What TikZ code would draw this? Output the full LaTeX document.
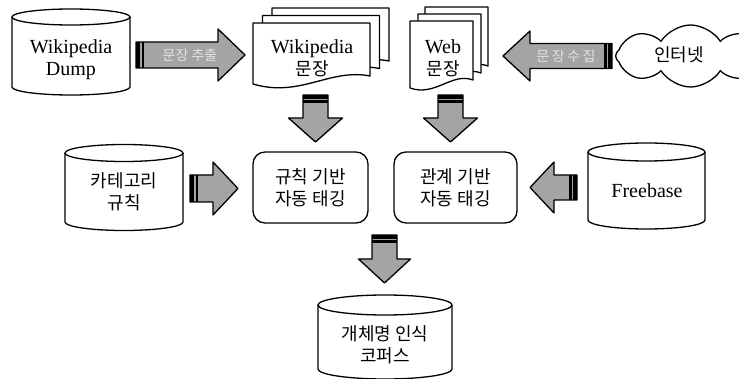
\documentclass[tikz,border=0pt]{standalone}
\usepackage{fontspec}
\setmainfont{Liberation Serif}
\newfontfamily\kr{Noto Sans CJK KR}
\newfontfamily\krwide[LetterSpace=18]{Noto Sans CJK KR}
\usetikzlibrary{shapes.symbols}
\definecolor{arrgray}{HTML}{A4A4A4}
\definecolor{lblgray}{HTML}{E2E2E2}
\tikzset{
  line/.style={line width=1.3pt, line join=round},
  lattext/.style={font=\fontsize{20}{22}\selectfont, align=center, inner sep=0pt},
  krtext/.style={font=\kr\fontsize{18}{22}\selectfont, align=center, inner sep=0pt},
  arrlabel/.style={font=\kr\fontsize{14}{14}\selectfont, text=lblgray, inner sep=0pt},
  tagbox/.style={draw, line width=1.3pt, rounded corners=12pt, minimum height=71pt,
    font=\kr\fontsize{18}{22}\selectfont, align=center, inner sep=0pt},
}
% block arrow: tail x, tail y, rotation, length, head length, shaft half width, head half width
\newcommand\blockarrow[7]{%
  \begin{scope}[shift={(#1,#2)}, rotate=#3, x=1pt, y=1pt]
    \fill[arrgray] (0,-#6) -- (#4-#5,-#6) -- (#4-#5,-#7) -- (#4,0) -- (#4-#5,#7) -- (#4-#5,#6) -- (0,#6) -- cycle;
    \fill[black] (0,-#6) rectangle (4,#6);
    \fill[black] (5.5,-#6) rectangle (8,#6);
    \draw[line] (0,-#6) -- (#4-#5,-#6) -- (#4-#5,-#7) -- (#4,0) -- (#4-#5,#7) -- (#4-#5,#6) -- (0,#6) -- cycle;
  \end{scope}}
% cylinder: left x, right x, top centre y, bottom centre y, y radius
\newcommand\cylinderpath[5]{%
  \filldraw[line, fill=white] (#1,#3) -- (#1,#4) arc[start angle=180, end angle=360, x radius={(#2-#1)/2*1pt}, y radius=#5pt] -- (#2,#3);
  \draw[line] ({(#1+#2)/2},#3) ellipse[x radius={(#2-#1)/2*1pt}, y radius=#5pt];}
\newcommand\wikidoc[2]{%
  \begin{scope}[shift={(#1,#2)}]
    \filldraw[line, fill=white] (253,23) -- (370,23) -- (370,76) .. controls (330,68) and (300,98) .. (253,84) -- cycle;
  \end{scope}}
\newcommand\webdoc[2]{%
  \begin{scope}[shift={(#1,#2)}]
    \filldraw[line, fill=white] (410,21) -- (473,21) -- (473,80) .. controls (452,72) and (435,97) .. (410,88) -- cycle;
  \end{scope}}
\begin{document}
\begin{tikzpicture}[x=1pt, y=-1pt]
  \useasboundingbox (0,0) rectangle (739,379);
  \clip (0,0) rectangle (739,379);
  \fill[white] (0,0) rectangle (739,379);

  % Wikipedia Dump
  \cylinderpath{12}{130}{17}{87}{8}
  \node[lattext] (dump) at (71,60) {Wikipedia\\Dump};

  % documents
  \wikidoc{19}{-15}
  \wikidoc{9.5}{-7.5}
  \wikidoc{0}{0}
  \node[lattext] (wikisent) at (312,58) {Wikipedia\\{\kr\fontsize{18}{22}\selectfont 문장}};
  \webdoc{15}{-14}
  \webdoc{8}{-7}
  \webdoc{0}{0}
  \node[lattext] (websent) at (443,58) {Web\\{\kr\fontsize{18}{22}\selectfont 문장}};

  % internet cloud
  \node[cloud, draw, line width=1.3pt, cloud puffs=8, cloud puff arc=115, aspect=2.4,
        minimum width=150pt, minimum height=62pt, anchor=west] (cloudshape) at (615,56) {};
  \node[krtext] (internet) at (679,55) {인터넷};

  % row 2
  \cylinderpath{65}{183}{153}{222}{8.5}
  \node[krtext] (catrule) at (124,192) {카테고리\\규칙};
  \node[tagbox, minimum width=115pt] (ruletag) at (310.5,187.5) {규칙 기반\\자동 태깅};
  \node[tagbox, minimum width=123pt] (reltag) at (455.5,187.5) {관계 기반\\자동 태깅};
  \cylinderpath{588}{705}{152}{220}{9}
  \node[lattext] (freebase) at (647,191) {Freebase};

  % corpus
  \cylinderpath{318}{452}{305}{369}{10}
  \node[krtext] (corpus) at (385,345) {개체명 인식\\코퍼스};

  % arrows
  \blockarrow{136}{55}{0}{109}{27}{13}{26}
  \node[arrlabel] (extract) at (190,55) {문장 추출};
  \blockarrow{612}{56}{180}{109}{27}{12.5}{25}
  \node[arrlabel, font=\krwide\fontsize{14}{14}\selectfont] (collect) at (566,56) {문장수집};
  \blockarrow{315.5}{95}{-90}{47}{24}{12.5}{27}
  \blockarrow{450.5}{95}{-90}{47}{24}{12.5}{27}
  \blockarrow{190}{188.5}{0}{48}{25}{13.5}{26.5}
  \blockarrow{577}{187.5}{180}{47}{24}{12.5}{25.5}
  \blockarrow{384.5}{235}{-90}{48}{24}{12.5}{26}
\end{tikzpicture}
\end{document}
